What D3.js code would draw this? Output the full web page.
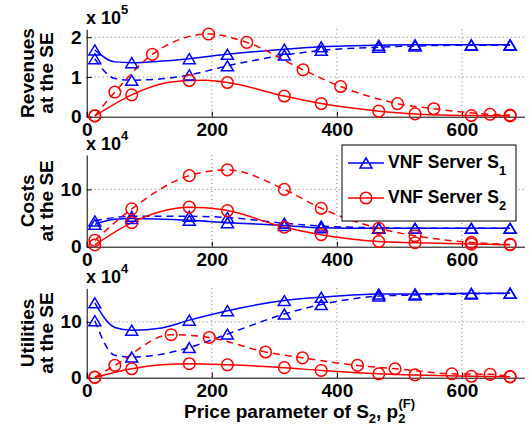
<!DOCTYPE html>
<meta charset="utf-8">
<script src="https://d3js.org/d3.v7.min.js"></script>
<style>
  body { margin: 0; background: #fff; }
  text { font-family: "Liberation Sans", Arial, sans-serif; font-weight: bold; }
</style>
<div id="chart"></div>
<script>
// ---- data ----
var xTicks = [0, 200, 400, 600];
var markX  = [13, 72, 164, 225, 316, 375, 467, 525, 615, 677];

// Revenues at the SE (x 10^5)
var revS1      = [[13,1.68],[45,1.38],[72,1.36],[120,1.40],[164,1.46],[225,1.57],[316,1.70],[375,1.76],[467,1.80],[525,1.81],[615,1.81],[677,1.81]];
var revS1dash  = [[13,1.46],[45,0.96],[72,0.92],[110,0.94],[164,1.05],[225,1.28],[316,1.55],[375,1.67],[467,1.75],[525,1.78],[615,1.80],[677,1.80]];
var revS2      = [[13,0.02],[72,0.55],[120,0.83],[164,0.91],[190,0.92],[225,0.86],[316,0.52],[375,0.33],[467,0.14],[525,0.07],[615,0.03],[677,0.02]];
var revS2dash  = [[13,0.02],[45,0.62],[105,1.57],[195,2.08],[256,1.87],[346,1.18],[406,0.76],[497,0.33],[555,0.20],[645,0.06],[677,0.04]];
var revS2dashMarks = [13, 45, 105, 195, 256, 346, 406, 497, 555, 645, 677];

// Costs at the SE (x 10^4)
var costS1     = [[13,3.9],[45,4.8],[72,4.9],[164,4.6],[225,4.2],[316,3.7],[375,3.3],[467,3.2],[525,3.2],[615,3.2],[677,3.2]];
var costS1dash = [[13,4.5],[45,5.1],[72,5.3],[164,5.3],[225,5.1],[316,4.1],[375,3.6],[467,3.3],[525,3.2],[615,3.2],[677,3.2]];
var costS2     = [[13,0.3],[72,4.2],[120,6.2],[164,6.9],[190,6.8],[225,6.3],[316,3.4],[375,2.1],[467,0.9],[525,0.7],[615,0.45],[677,0.35]];
var costS2dash = [[13,1.1],[72,6.6],[164,12.4],[225,13.4],[316,10.0],[375,6.7],[467,3.2],[525,1.9],[615,0.75],[677,0.4]];

// Utilities at the SE (x 10^4)
var utilS1     = [[13,13.4],[45,9.0],[72,8.5],[120,8.9],[164,10.3],[225,12.0],[316,13.8],[375,14.4],[467,15.0],[525,15.0],[615,15.1],[677,15.1]];
var utilS1dash = [[13,10.2],[45,4.0],[72,3.7],[120,4.2],[164,5.4],[225,7.8],[316,11.4],[375,13.1],[467,14.6],[525,14.8],[615,15.0],[677,15.1]];
var utilS2     = [[13,0.05],[72,1.6],[120,2.3],[164,2.5],[225,2.3],[316,1.8],[375,1.3],[467,0.7],[525,0.5],[615,0.25],[677,0.15]];
var utilS2dash = [[13,0.1],[45,2.2],[135,7.7],[196,7.2],[286,4.6],[345,3.55],[433,2.2],[493,1.6],[584,0.7],[645,0.6],[677,0.2]];
var utilS2dashMarks = [13, 45, 135, 196, 286, 345, 433, 493, 584, 645, 677];

var legendLabels = ["VNF Server S", "VNF Server S"];
var legendSubs = ["1", "2"];

// ---- layout ----
var width = 532, height = 432;
var blue = "#0000ff", red = "#ff0000";

var svg = d3.select("#chart").append("svg")
    .attr("width", width)
    .attr("height", height);

var x = d3.scaleLinear().domain([0, 700]).range([86.7, 524.5]);

var panels = [
  {top: 29.3, bottom: 116.7, max: 2.2, ticks: [0, 1, 2], exp: "5", label: ["Revenues", "at the SE"],
   series: [
     {data: revS1, marks: markX, color: blue, dash: null, sym: "tri"},
     {data: revS1dash, marks: markX, color: blue, dash: "7,5", sym: "tri"},
     {data: revS2, marks: markX, color: red, dash: null, sym: "circ"},
     {data: revS2dash, marks: revS2dashMarks, color: red, dash: "7,5", sym: "circ"}]},
  {top: 155, bottom: 246.7, max: 16, ticks: [0, 10], exp: "4", label: ["Costs", "at the SE"],
   series: [
     {data: costS1, marks: markX, color: blue, dash: null, sym: "tri"},
     {data: costS1dash, marks: markX, color: blue, dash: "7,5", sym: "tri"},
     {data: costS2, marks: markX, color: red, dash: null, sym: "circ"},
     {data: costS2dash, marks: markX, color: red, dash: "7,5", sym: "circ"}]},
  {top: 288.3, bottom: 377.7, max: 16, ticks: [0, 10], exp: "4", label: ["Utilities", "at the SE"],
   series: [
     {data: utilS1, marks: markX, color: blue, dash: null, sym: "tri"},
     {data: utilS1dash, marks: markX, color: blue, dash: "7,5", sym: "tri"},
     {data: utilS2, marks: markX, color: red, dash: null, sym: "circ"},
     {data: utilS2dash, marks: utilS2dashMarks, color: red, dash: "7,5", sym: "circ"}]}
];

function triPath(w, h) {
  return "M0," + (-h / 2) + "L" + (w / 2) + "," + (h / 2) + "L" + (-w / 2) + "," + (h / 2) + "Z";
}

function drawMarker(g, sym, color, cx, cy) {
  if (sym === "tri") {
    g.append("path")
      .attr("d", triPath(12, 10))
      .attr("transform", "translate(" + cx + "," + cy + ")")
      .attr("fill", "none").attr("stroke", color).attr("stroke-width", 1.5);
  } else {
    g.append("circle")
      .attr("cx", cx).attr("cy", cy).attr("r", 5.8)
      .attr("fill", "none").attr("stroke", color).attr("stroke-width", 1.5);
  }
}

panels.forEach(function(p) {
  var y = d3.scaleLinear().domain([0, p.max]).range([p.bottom, p.top]);
  var g = svg.append("g");

  // grid
  g.selectAll(".vgrid").data(xTicks.slice(1)).enter().append("line")
    .attr("x1", d => x(d)).attr("x2", d => x(d))
    .attr("y1", p.top).attr("y2", p.bottom)
    .attr("stroke", "#555").attr("stroke-width", 0.8).attr("stroke-dasharray", "1,3");
  g.selectAll(".hgrid").data(p.ticks.slice(1)).enter().append("line")
    .attr("x1", x.range()[0]).attr("x2", x.range()[1])
    .attr("y1", d => y(d)).attr("y2", d => y(d))
    .attr("stroke", "#555").attr("stroke-width", 0.8).attr("stroke-dasharray", "1,3");

  // axes
  var xa = g.append("g")
    .attr("transform", "translate(0," + p.bottom + ")")
    .call(d3.axisBottom(x).tickValues(xTicks).tickFormat(d3.format("d"))
      .tickSizeInner(-5).tickSizeOuter(0).tickPadding(6));
  var ya = g.append("g")
    .attr("transform", "translate(" + x.range()[0] + ",0)")
    .call(d3.axisLeft(y).tickValues(p.ticks).tickFormat(d3.format("d"))
      .tickSizeInner(-5).tickSizeOuter(0).tickPadding(5));
  [xa, ya].forEach(function(a) {
    a.selectAll("text").attr("font-size", 19).attr("fill", "#000")
      .style("font-family", "'Liberation Sans', Arial, sans-serif").style("font-weight", "bold");
    a.select(".domain").attr("stroke", "#000").attr("stroke-width", 1);
    a.selectAll(".tick line").attr("stroke", "#000");
  });

  // exponent label
  var ex = g.append("text").attr("x", 86).attr("y", p.top - 5).attr("font-size", 18);
  ex.append("tspan").text("x 10");
  ex.append("tspan").attr("dy", -10).attr("font-size", 13).text(p.exp);

  // y label (two lines)
  var yl = g.append("text")
    .attr("transform", "translate(34," + (p.top + p.bottom) / 2 + ") rotate(-90)")
    .attr("text-anchor", "middle").attr("font-size", 19);
  yl.append("tspan").attr("x", 0).attr("y", 0).text(p.label[0]);
  yl.append("tspan").attr("x", 0).attr("y", 19).text(p.label[1]);

  // lines
  var line = d3.line().x(d => x(d[0])).y(d => y(d[1])).curve(d3.curveMonotoneX);
  p.series.forEach(function(s) {
    g.append("path").datum(s.data)
      .attr("d", line)
      .attr("fill", "none").attr("stroke", s.color).attr("stroke-width", 1.5)
      .attr("stroke-dasharray", s.dash);
  });
  p.series.forEach(function(s) {
    var mg = g.append("g");
    s.data.filter(d => s.marks.indexOf(d[0]) >= 0).forEach(function(d) {
      drawMarker(mg, s.sym, s.color, x(d[0]), y(d[1]));
    });
  });
});

// legend in the middle panel
var lg = svg.append("g");
lg.append("rect").attr("x", 342).attr("y", 145).attr("width", 174).attr("height", 76)
  .attr("fill", "#fff").attr("stroke", "#000").attr("stroke-width", 1);
var legColors = [blue, red], legSyms = ["tri", "circ"], legY = [163, 198];
legendLabels.forEach(function(lab, i) {
  lg.append("line").attr("x1", 348).attr("x2", 384).attr("y1", legY[i]).attr("y2", legY[i])
    .attr("stroke", legColors[i]).attr("stroke-width", 1.5);
  drawMarker(lg, legSyms[i], legColors[i], 366, legY[i]);
  var t = lg.append("text").attr("x", 388).attr("y", legY[i] + 5).attr("font-size", 17.5);
  t.append("tspan").text(lab);
  t.append("tspan").attr("dy", 7).attr("font-size", 13).text(legendSubs[i]);
});

// x label
var xl = svg.append("text").attr("x", 184).attr("y", 418).attr("font-size", 19);
xl.append("tspan").text("Price parameter of S");
xl.append("tspan").attr("dy", 5).attr("font-size", 13).text("2");
xl.append("tspan").attr("dy", -5).text(", p");
xl.append("tspan").attr("dy", 5).attr("font-size", 13).text("2");
xl.append("tspan").attr("dx", -7).attr("dy", -15).attr("font-size", 13).text("(F)");
</script>
